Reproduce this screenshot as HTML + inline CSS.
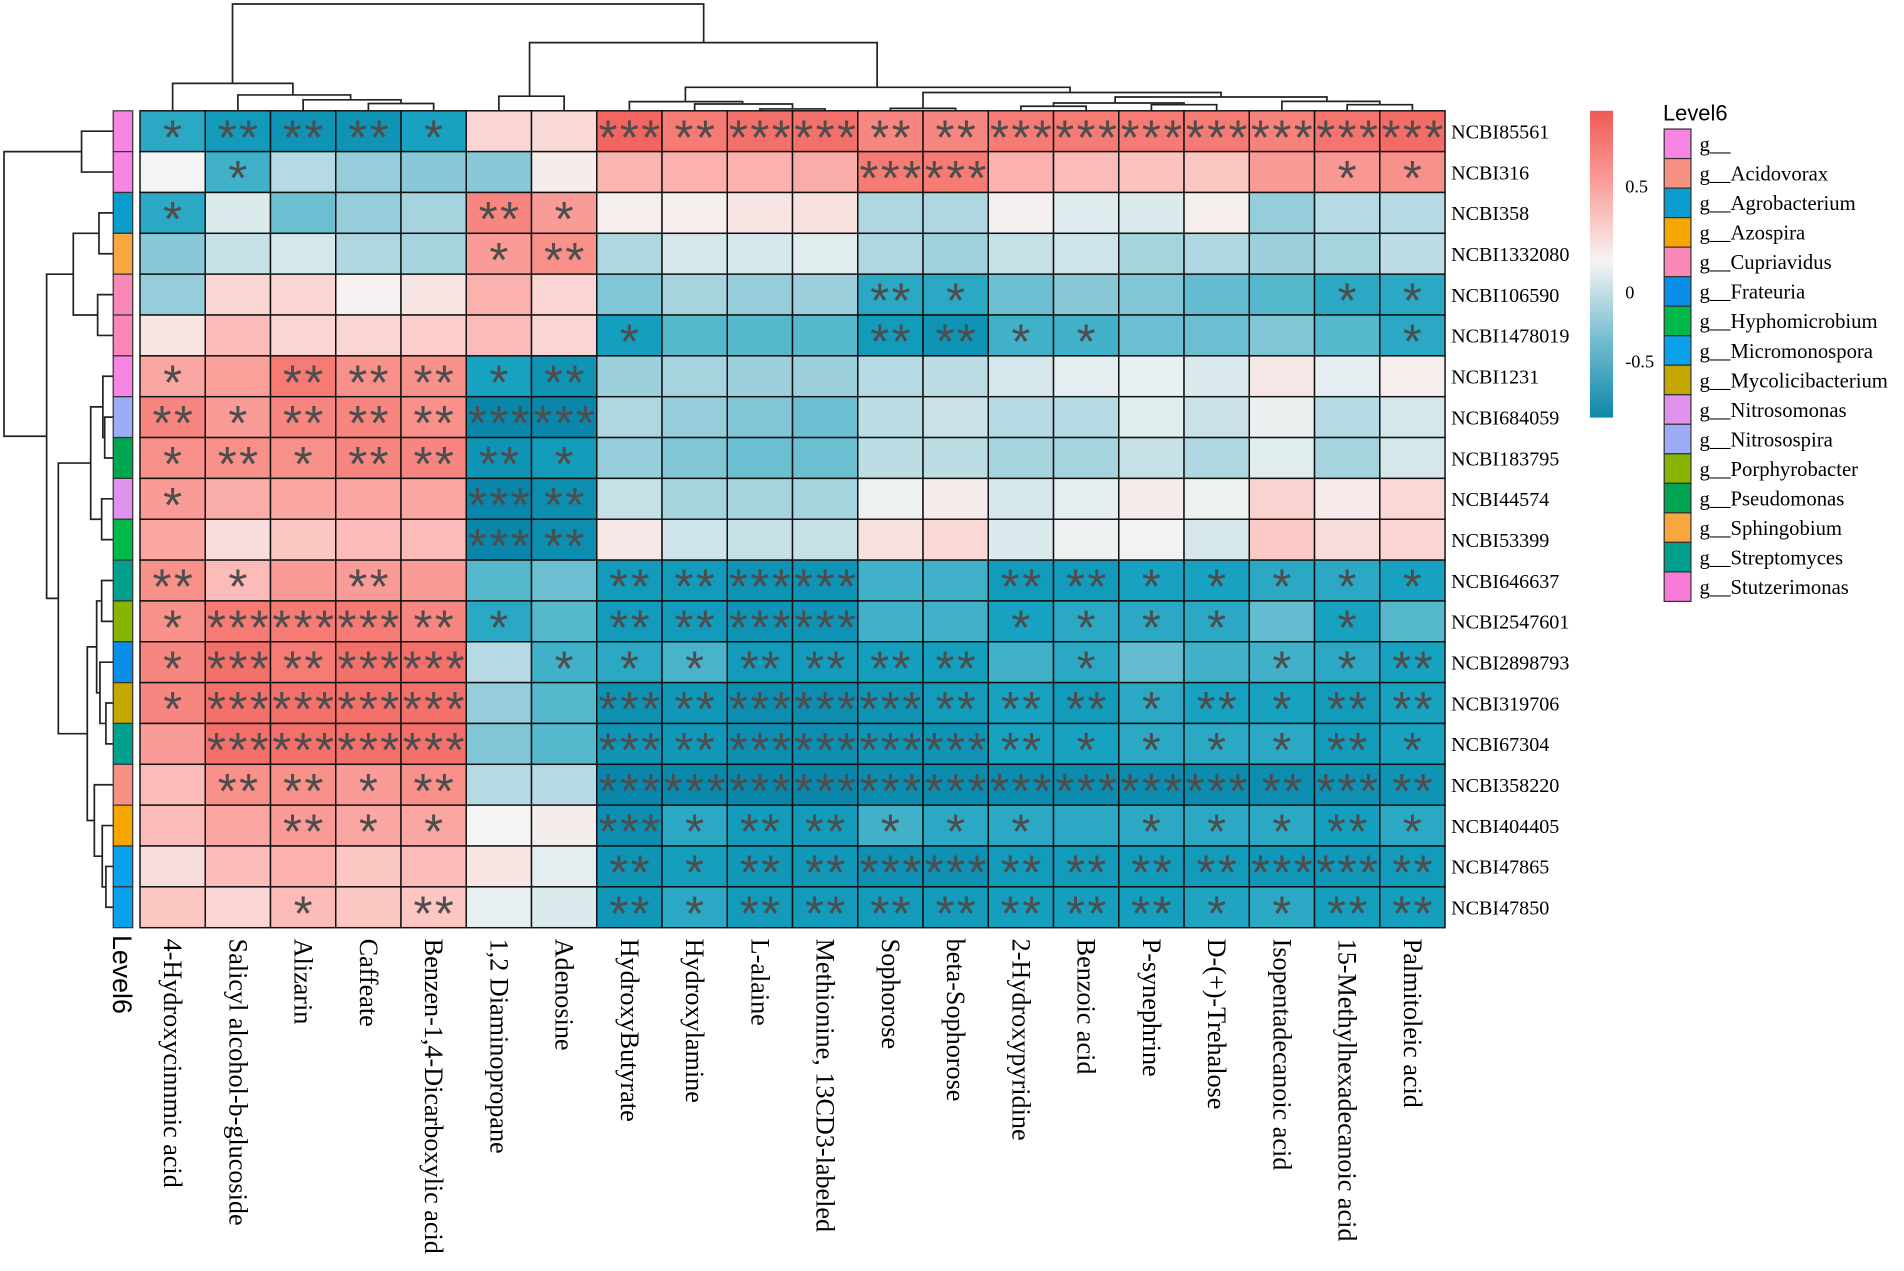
<!DOCTYPE html>
<html><head><meta charset="utf-8"><title>Heatmap</title>
<style>html,body{margin:0;padding:0;background:#fff;}svg{display:block;}</style></head>
<body>
<svg id="chart" width="1904" height="1271" viewBox="0 0 1564 1044" preserveAspectRatio="none" xmlns="http://www.w3.org/2000/svg">
<g id="dendro-top" fill="none" stroke="#222" stroke-width="1.4"></g>
<g id="dendro-left" fill="none" stroke="#222" stroke-width="1.4"></g>
<g id="annot"></g>
<g id="cells"></g>
<g id="stars"></g>
<g id="rowlabels"></g>
<g id="collabels"></g>
<g id="colorbar"></g>
<g id="legend"></g>
</svg>
<script>
const rowNames = ["NCBI85561","NCBI316","NCBI358","NCBI1332080","NCBI106590","NCBI1478019","NCBI1231","NCBI684059","NCBI183795","NCBI44574","NCBI53399","NCBI646637","NCBI2547601","NCBI2898793","NCBI319706","NCBI67304","NCBI358220","NCBI404405","NCBI47865","NCBI47850"];
const colNames = ["4-Hydroxycinnmic acid","Salicyl alcohol-b-glucoside","Alizarin","Caffeate","Benzen-1,4-Dicarboxylic acid","1,2 Diaminopropane","Adenosine","HydroxyButyrate","Hydroxylamine","L-alaine","Methionine, 13CD3-labeled","Sophorose","beta-Sophorose","2-Hydroxypyridine","Benzoic acid","P-synephrine","D-(+)-Trehalose","Isopentadecanoic acid","15-Methylhexadecanoic acid","Palmitoleic acid"];
const rowGenus = [0,0,2,13,4,4,0,10,12,9,6,14,11,5,8,14,1,3,7,7];
const genusNames = ["g__","g__Acidovorax","g__Agrobacterium","g__Azospira","g__Cupriavidus","g__Frateuria","g__Hyphomicrobium","g__Micromonospora","g__Mycolicibacterium","g__Nitrosomonas","g__Nitrosospira","g__Porphyrobacter","g__Pseudomonas","g__Sphingobium","g__Streptomyces","g__Stutzerimonas"];
const genusColors = ["#f884e4","#f79184","#0a9ccc","#f5a700","#f987b8","#0a8fe8","#00b94a","#0aa0ec","#c4a800","#de92ec","#9eacf8","#86b400","#00a551","#f8a640","#00a08c","#f87ad8"];
const values = [
[-0.55,-0.65,-0.7,-0.7,-0.6,0.2,0.17,0.75,0.65,0.7,0.7,0.6,0.6,0.65,0.65,0.65,0.65,0.62,0.68,0.72],
[0.0,-0.5,-0.2,-0.3,-0.33,-0.33,0.05,0.38,0.4,0.4,0.42,0.65,0.65,0.4,0.35,0.32,0.3,0.5,0.52,0.55],
[-0.55,-0.08,-0.4,-0.3,-0.25,0.6,0.5,0.04,0.04,0.1,0.12,-0.22,-0.22,0.03,-0.07,-0.08,0.04,-0.3,-0.2,-0.2],
[-0.33,-0.15,-0.1,-0.22,-0.25,0.5,0.55,-0.22,-0.1,-0.1,-0.06,-0.22,-0.27,-0.15,-0.12,-0.25,-0.22,-0.28,-0.25,-0.18],
[-0.3,0.2,0.2,0.02,0.1,0.4,0.2,-0.35,-0.25,-0.3,-0.28,-0.55,-0.55,-0.4,-0.33,-0.35,-0.42,-0.45,-0.55,-0.55],
[0.1,0.35,0.2,0.2,0.25,0.35,0.2,-0.62,-0.45,-0.45,-0.45,-0.65,-0.7,-0.5,-0.5,-0.4,-0.4,-0.35,-0.45,-0.55],
[0.45,0.48,0.65,0.55,0.55,-0.6,-0.7,-0.28,-0.25,-0.28,-0.28,-0.2,-0.18,-0.1,-0.05,-0.04,-0.08,0.08,-0.05,0.04],
[0.6,0.5,0.6,0.6,0.55,-0.8,-0.8,-0.22,-0.3,-0.35,-0.4,-0.18,-0.14,-0.2,-0.2,-0.06,-0.14,-0.03,-0.2,-0.1],
[0.55,0.55,0.55,0.6,0.6,-0.7,-0.65,-0.3,-0.35,-0.4,-0.4,-0.18,-0.18,-0.25,-0.25,-0.15,-0.22,-0.06,-0.25,-0.1],
[0.5,0.42,0.45,0.45,0.45,-0.8,-0.75,-0.15,-0.25,-0.25,-0.25,-0.02,0.05,-0.1,-0.05,0.05,-0.02,0.22,0.06,0.18],
[0.45,0.15,0.3,0.35,0.35,-0.8,-0.75,0.08,-0.12,-0.15,-0.15,0.12,0.18,-0.08,-0.02,-0.01,-0.1,0.28,0.15,0.2],
[0.55,0.35,0.5,0.5,0.5,-0.45,-0.4,-0.65,-0.65,-0.7,-0.7,-0.5,-0.5,-0.65,-0.65,-0.6,-0.6,-0.55,-0.55,-0.6],
[0.55,0.65,0.65,0.65,0.6,-0.55,-0.45,-0.65,-0.65,-0.7,-0.7,-0.5,-0.5,-0.6,-0.55,-0.55,-0.55,-0.42,-0.6,-0.45],
[0.6,0.7,0.65,0.7,0.7,-0.2,-0.5,-0.55,-0.48,-0.65,-0.65,-0.62,-0.62,-0.5,-0.55,-0.42,-0.5,-0.5,-0.55,-0.6],
[0.6,0.7,0.7,0.7,0.7,-0.3,-0.45,-0.72,-0.68,-0.75,-0.75,-0.7,-0.65,-0.6,-0.65,-0.55,-0.6,-0.6,-0.65,-0.6],
[0.5,0.7,0.7,0.7,0.7,-0.35,-0.45,-0.7,-0.68,-0.75,-0.75,-0.7,-0.7,-0.6,-0.6,-0.55,-0.55,-0.55,-0.65,-0.6],
[0.35,0.55,0.55,0.5,0.55,-0.2,-0.2,-0.8,-0.78,-0.8,-0.8,-0.76,-0.76,-0.76,-0.76,-0.76,-0.76,-0.75,-0.72,-0.7],
[0.35,0.45,0.5,0.45,0.45,0.0,0.05,-0.75,-0.55,-0.65,-0.65,-0.5,-0.55,-0.55,-0.55,-0.55,-0.55,-0.55,-0.62,-0.55],
[0.15,0.35,0.4,0.3,0.35,0.1,-0.05,-0.7,-0.62,-0.68,-0.68,-0.72,-0.72,-0.65,-0.65,-0.65,-0.65,-0.68,-0.68,-0.65],
[0.3,0.2,0.35,0.3,0.3,-0.04,-0.08,-0.68,-0.55,-0.65,-0.65,-0.65,-0.65,-0.62,-0.62,-0.62,-0.58,-0.55,-0.62,-0.62]];
const stars = [
[1,2,2,2,1,0,0,3,2,3,3,2,2,3,3,3,3,3,3,3],
[0,1,0,0,0,0,0,0,0,0,0,3,3,0,0,0,0,0,1,1],
[1,0,0,0,0,2,1,0,0,0,0,0,0,0,0,0,0,0,0,0],
[0,0,0,0,0,1,2,0,0,0,0,0,0,0,0,0,0,0,0,0],
[0,0,0,0,0,0,0,0,0,0,0,2,1,0,0,0,0,0,1,1],
[0,0,0,0,0,0,0,1,0,0,0,2,2,1,1,0,0,0,0,1],
[1,0,2,2,2,1,2,0,0,0,0,0,0,0,0,0,0,0,0,0],
[2,1,2,2,2,3,3,0,0,0,0,0,0,0,0,0,0,0,0,0],
[1,2,1,2,2,2,1,0,0,0,0,0,0,0,0,0,0,0,0,0],
[1,0,0,0,0,3,2,0,0,0,0,0,0,0,0,0,0,0,0,0],
[0,0,0,0,0,3,2,0,0,0,0,0,0,0,0,0,0,0,0,0],
[2,1,0,2,0,0,0,2,2,3,3,0,0,2,2,1,1,1,1,1],
[1,3,3,3,2,1,0,2,2,3,3,0,0,1,1,1,1,0,1,0],
[1,3,2,3,3,0,1,1,1,2,2,2,2,0,1,0,0,1,1,2],
[1,3,3,3,3,0,0,3,2,3,3,3,2,2,2,1,2,1,2,2],
[0,3,3,3,3,0,0,3,2,3,3,3,3,2,1,1,1,1,2,1],
[0,2,2,1,2,0,0,3,3,3,3,3,3,3,3,3,3,2,3,2],
[0,0,2,1,1,0,0,3,1,2,2,1,1,1,0,1,1,1,2,1],
[0,0,0,0,0,0,0,2,1,2,2,3,3,2,2,2,2,3,3,2],
[0,0,1,0,2,0,0,2,1,2,2,2,2,2,2,2,1,1,2,2]];
const scaleTicks = [0.5,0,-0.5];
const scaleTickY = ["0.5","0","-0.5"];

const NS = "http://www.w3.org/2000/svg";
const X0 = 115, Y0 = 91, CW = (1187-115)/20, RH = (762-91)/20;
function xPos(c){return X0 + c*CW;}
function yPos(r){return Y0 + r*RH;}
function el(tag, attrs, parent){const e=document.createElementNS(NS,tag);for(const k in attrs)e.setAttribute(k,attrs[k]);parent.appendChild(e);return e;}
const stops = [[-0.8,[10,134,170]],[-0.6,[22,162,192]],[-0.3,[150,205,218]],[0,[244,244,244]],[0.3,[252,198,195]],[0.6,[248,134,128]],[0.8,[240,90,85]]];
function colorOf(v){
  v=Math.max(-0.8,Math.min(0.8,v));
  for(let i=0;i<stops.length-1;i++){const a=stops[i],b=stops[i+1];
    if(v<=b[0]){const t=(v-a[0])/(b[0]-a[0]);const c=a[1].map((x,j)=>Math.round(x+(b[1][j]-x)*t));return `rgb(${c[0]},${c[1]},${c[2]})`;}}
  return "rgb(240,90,85)";
}
const gC=document.getElementById('cells'), gS=document.getElementById('stars');
values.forEach((row,r)=>row.forEach((v,c)=>{
  const rc=el('rect',{x:xPos(c),y:yPos(r),width:CW,height:RH,fill:colorOf(v),stroke:'#111','stroke-width':1.2},gC);
  
  
  const n=stars[r][c];
  if(n>0){
    const t=el('text',{x:xPos(c)+CW/2+1,y:yPos(r)+RH/2+19,'text-anchor':'middle','font-family':'"Liberation Sans",sans-serif','font-size':40,'letter-spacing':2,fill:'#4d4d4d'},gS);
    t.textContent='*'.repeat(n);
    
    
  }
}));
const gA=document.getElementById('annot');
rowGenus.forEach((g,r)=>{
  const a=el('rect',{x:93,y:yPos(r),width:16,height:RH,fill:genusColors[g],stroke:'#333','stroke-width':1},gA);
  
  
});
const lv=el('text',{transform:'translate(93,768) rotate(90)','font-family':'"Liberation Sans",sans-serif','font-size':22,fill:'#000'},gA);
lv.textContent='Level6';


const gR=document.getElementById('rowlabels');
rowNames.forEach((n,r)=>{
  const t=el('text',{x:1192,y:yPos(r)+RH/2+6,'font-family':'"Liberation Serif",serif','font-size':16.5,fill:'#000'},gR);
  t.textContent=n;
  
  
});
const gL=document.getElementById('collabels');
colNames.forEach((n,c)=>{
  const x=xPos(c)+CW/2-7;
  const t=el('text',{transform:`translate(${x},771) rotate(90)`,'font-family':'"Liberation Serif",serif','font-size':21.5,fill:'#000'},gL);
  t.textContent=n;
  
  
});
function cx(c){return xPos(c)+CW/2;}
function ry(r){return yPos(r)+RH/2;}
const topLinks = [
 [cx(3),cx(4),85,91,91],[cx(2),(cx(3)+cx(4))/2,82,91,85],[cx(1),288,78,91,82],[cx(0),240.6,68.5,91,78],
 [cx(5),cx(6),79,91,91],[cx(9),cx(10),89.5,91,91],[cx(8),(cx(9)+cx(10))/2,85.4,91,89.5],[cx(7),610,83.5,91,85.4],
 [cx(11),cx(12),89,91,91],[cx(13),cx(14),87.3,91,91],[cx(15),cx(16),86,91,91],[(cx(13)+cx(14))/2,(cx(15)+cx(16))/2,84.6,87.3,86],
 [cx(18),cx(19),86,91,91],[cx(17),(cx(18)+cx(19))/2,83.3,91,86],[916,1090,79.7,84.6,83.3],[(cx(11)+cx(12))/2,1003,76,89,79.7],
 [563,879,71.7,83.5,76],[435,720.5,35,79,71.7],[191,578,3.3,68.5,35]];
const gT=document.getElementById('dendro-top');
topLinks.forEach(l=>{
  const p=el('path',{d:`M${l[0]},${l[3]}V${l[2]}H${l[1]}V${l[4]}`},gT);
  
  
});
const leftLinks = [
 [ry(0),ry(1),67,93,93],
 [ry(2),ry(3),81.3,93,93],[ry(4),ry(5),80.2,93,93],[(ry(2)+ry(3))/2,(ry(4)+ry(5))/2,60.2,81.3,80.2],
 [ry(7),ry(8),86,93,93],[ry(6),(ry(7)+ry(8))/2,84.5,93,86],[ry(9),ry(10),83.5,93,93],[(ry(6)+(ry(7)+ry(8))/2)/2,(ry(9)+ry(10))/2,74.5,84.5,83.5],
 [ry(11),ry(12),83.5,93,93],[ry(14),ry(15),87,93,93],[ry(13),(ry(14)+ry(15))/2,82.1,93,87],[(ry(11)+ry(12))/2,(ry(13)+(ry(14)+ry(15))/2)/2,79.4,83.5,82.1],
 [ry(18),ry(19),87,93,93],[ry(17),(ry(18)+ry(19))/2,84,93,87],[ry(16),(ry(17)+(ry(18)+ry(19))/2)/2,77.5,93,84],
 [ (((ry(11)+ry(12))/2)+((ry(13)+(ry(14)+ry(15))/2)/2))/2, (ry(16)+(ry(17)+(ry(18)+ry(19))/2)/2)/2, 71.7,79.4,77.5]
];
const gD=document.getElementById('dendro-left');
leftLinks.forEach(l=>{
  const p=el('path',{d:`M${l[3]},${l[0]}H${l[2]}V${l[1]}H${l[4]}`},gD);
  
  
});
const eMid=((ry(6)+(ry(7)+ry(8))/2)/2+(ry(9)+ry(10))/2)/2;
const fMid=((((ry(11)+ry(12))/2)+((ry(13)+(ry(14)+ry(15))/2)/2))/2+(ry(16)+(ry(17)+(ry(18)+ry(19))/2)/2)/2)/2;
const cMid=((ry(2)+ry(3))/2+(ry(4)+ry(5))/2)/2;
const dMid=(eMid+fMid)/2;
const bMid=(cMid+dMid)/2;
[[eMid,fMid,47.9,74.5,71.7],[cMid,dMid,38.3,60.2,47.9],[(ry(0)+ry(1))/2,bMid,3.3,67,38.3]].forEach(l=>{
  const p=el('path',{d:`M${l[3]},${l[0]}H${l[2]}V${l[1]}H${l[4]}`},gD);
  
  
});
const gB=document.getElementById('colorbar');
const defs=el('defs',{},gB);
const lg=el('linearGradient',{id:'cbgrad',x1:0,y1:0,x2:0,y2:1},defs);
[[0,'#f05a55'],[0.22,'#f99a95'],[0.49,'#f7f4f4'],[0.75,'#72bccf'],[1,'#0e88aa']].forEach(s=>el('stop',{offset:s[0],'stop-color':s[1]},lg));
const cb=el('rect',{x:1306,y:91,width:19,height:252,fill:'url(#cbgrad)'},gB);


const tickY={"0.5":158,"0":245,"-0.5":302};
scaleTicks.forEach((v,i)=>{
  const t=el('text',{x:1335,y:tickY[scaleTickY[i]],'font-family':'"Liberation Serif",serif','font-size':15,fill:'#000'},gB);
  t.textContent=scaleTickY[i];
  
  
});
const gG=document.getElementById('legend');
const lt=el('text',{x:1366,y:99,'font-family':'"Liberation Sans",sans-serif','font-size':18,fill:'#000'},gG);
lt.textContent='Level6';


const LH=(494-106)/16;
genusNames.forEach((n,i)=>{
  const r=el('rect',{x:1367,y:106+i*LH,width:22,height:LH,fill:genusColors[i],stroke:'#333','stroke-width':1},gG);
  
  
  const t=el('text',{x:1396,y:106+i*LH+LH/2+6,'font-family':'"Liberation Serif",serif','font-size':17,fill:'#000'},gG);
  t.textContent=n;
  
  
});
</script>
</body></html>
